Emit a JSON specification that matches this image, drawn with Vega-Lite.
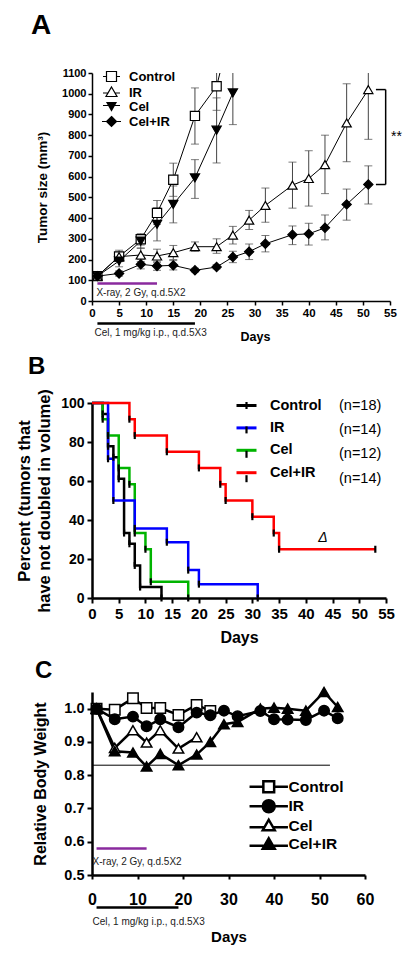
{
  "$schema": "https://vega.github.io/schema/vega-lite/v6.json",
  "padding": {"left": 16, "top": 11, "right": 5, "bottom": 5},
  "datasets": {
    "tumor": [
      {"group": "Control", "day": 1, "v": 120},
      {"group": "Control", "day": 5, "v": 215, "lo": 190, "hi": 245},
      {"group": "Control", "day": 9, "v": 298, "lo": 270, "hi": 325},
      {"group": "Control", "day": 12, "v": 425, "lo": 370, "hi": 485},
      {"group": "Control", "day": 15, "v": 585, "lo": 505, "hi": 665},
      {"group": "Control", "day": 19, "v": 893, "lo": 757, "hi": 1028},
      {"group": "Control", "day": 23, "v": 1036, "lo": 920, "hi": 1160},
      {"group": "Control", "day": 26, "v": 1350},
      {"group": "IR", "day": 1, "v": 120},
      {"group": "IR", "day": 5, "v": 214, "lo": 195, "hi": 235},
      {"group": "IR", "day": 9, "v": 222, "lo": 190, "hi": 255},
      {"group": "IR", "day": 12, "v": 217, "lo": 185, "hi": 250},
      {"group": "IR", "day": 15, "v": 233, "lo": 200, "hi": 268},
      {"group": "IR", "day": 19, "v": 262, "lo": 240, "hi": 285},
      {"group": "IR", "day": 23, "v": 262, "lo": 230, "hi": 300},
      {"group": "IR", "day": 26, "v": 318, "lo": 275, "hi": 360},
      {"group": "IR", "day": 29, "v": 390, "lo": 345, "hi": 437},
      {"group": "IR", "day": 32, "v": 461, "lo": 380, "hi": 545},
      {"group": "IR", "day": 37, "v": 559, "lo": 448, "hi": 670},
      {"group": "IR", "day": 40, "v": 591, "lo": 458, "hi": 725},
      {"group": "IR", "day": 43, "v": 658, "lo": 518, "hi": 800},
      {"group": "IR", "day": 47, "v": 859, "lo": 672, "hi": 1048},
      {"group": "IR", "day": 51, "v": 1020, "lo": 780, "hi": 1260},
      {"group": "Cel", "day": 1, "v": 120},
      {"group": "Cel", "day": 5, "v": 193, "lo": 165, "hi": 225},
      {"group": "Cel", "day": 9, "v": 289, "lo": 255, "hi": 320},
      {"group": "Cel", "day": 12, "v": 370, "lo": 290, "hi": 450},
      {"group": "Cel", "day": 15, "v": 466, "lo": 377, "hi": 555},
      {"group": "Cel", "day": 19, "v": 594, "lo": 495, "hi": 682},
      {"group": "Cel", "day": 23, "v": 824, "lo": 666, "hi": 980},
      {"group": "Cel", "day": 26, "v": 1004, "lo": 851, "hi": 1160},
      {"group": "Cel+IR", "day": 1, "v": 120},
      {"group": "Cel+IR", "day": 5, "v": 133, "lo": 120, "hi": 145},
      {"group": "Cel+IR", "day": 9, "v": 177, "lo": 155, "hi": 200},
      {"group": "Cel+IR", "day": 12, "v": 169, "lo": 148, "hi": 192},
      {"group": "Cel+IR", "day": 15, "v": 172, "lo": 150, "hi": 195},
      {"group": "Cel+IR", "day": 19, "v": 148, "lo": 140, "hi": 158},
      {"group": "Cel+IR", "day": 23, "v": 164, "lo": 155, "hi": 175},
      {"group": "Cel+IR", "day": 26, "v": 212, "lo": 185, "hi": 240},
      {"group": "Cel+IR", "day": 29, "v": 238, "lo": 200, "hi": 275},
      {"group": "Cel+IR", "day": 32, "v": 276, "lo": 237, "hi": 316},
      {"group": "Cel+IR", "day": 37, "v": 320, "lo": 272, "hi": 362},
      {"group": "Cel+IR", "day": 40, "v": 324, "lo": 270, "hi": 375},
      {"group": "Cel+IR", "day": 43, "v": 353, "lo": 295, "hi": 415},
      {"group": "Cel+IR", "day": 47, "v": 466, "lo": 390, "hi": 540},
      {"group": "Cel+IR", "day": 51, "v": 562, "lo": 468, "hi": 652}
    ],
    "surv": [
      {"group": "Control", "day": 0, "pct": 100},
      {"group": "Control", "day": 2, "pct": 94.4},
      {"group": "Control", "day": 3, "pct": 77.8},
      {"group": "Control", "day": 4, "pct": 72.2},
      {"group": "Control", "day": 5, "pct": 61.1},
      {"group": "Control", "day": 6, "pct": 33.3},
      {"group": "Control", "day": 7, "pct": 27.8},
      {"group": "Control", "day": 8, "pct": 16.7},
      {"group": "Control", "day": 9, "pct": 5.6},
      {"group": "Control", "day": 13, "pct": 0},
      {"group": "Cel", "day": 0, "pct": 100},
      {"group": "Cel", "day": 2, "pct": 91.7},
      {"group": "Cel", "day": 3, "pct": 83.3},
      {"group": "Cel", "day": 5, "pct": 66.7},
      {"group": "Cel", "day": 7, "pct": 58.3},
      {"group": "Cel", "day": 8, "pct": 33.3},
      {"group": "Cel", "day": 10, "pct": 25},
      {"group": "Cel", "day": 11, "pct": 8.3},
      {"group": "Cel", "day": 18, "pct": 0},
      {"group": "IR", "day": 0, "pct": 100},
      {"group": "IR", "day": 3, "pct": 71.4},
      {"group": "IR", "day": 4, "pct": 50},
      {"group": "IR", "day": 8, "pct": 35.7},
      {"group": "IR", "day": 14, "pct": 28.6},
      {"group": "IR", "day": 18, "pct": 14.3},
      {"group": "IR", "day": 20, "pct": 7.1},
      {"group": "IR", "day": 31, "pct": 0},
      {"group": "Cel+IR", "day": 0, "pct": 100},
      {"group": "Cel+IR", "day": 7, "pct": 91.7},
      {"group": "Cel+IR", "day": 8, "pct": 83.3},
      {"group": "Cel+IR", "day": 14, "pct": 75},
      {"group": "Cel+IR", "day": 20, "pct": 66.7},
      {"group": "Cel+IR", "day": 24, "pct": 58.3},
      {"group": "Cel+IR", "day": 25, "pct": 50},
      {"group": "Cel+IR", "day": 30, "pct": 41.7},
      {"group": "Cel+IR", "day": 34, "pct": 33.3},
      {"group": "Cel+IR", "day": 35, "pct": 25},
      {"group": "Cel+IR", "day": 53, "pct": 25}
    ],
    "weight": [
      {"group": "Control", "day": 1, "w": 1.0},
      {"group": "Control", "day": 5, "w": 0.997},
      {"group": "Control", "day": 9, "w": 1.031},
      {"group": "Control", "day": 12, "w": 1.002},
      {"group": "Control", "day": 15, "w": 1.002},
      {"group": "Control", "day": 19, "w": 0.981},
      {"group": "Control", "day": 23, "w": 1.011},
      {"group": "Control", "day": 26, "w": 0.993},
      {"group": "IR", "day": 1, "w": 1.0},
      {"group": "IR", "day": 5, "w": 0.968},
      {"group": "IR", "day": 9, "w": 0.976},
      {"group": "IR", "day": 12, "w": 0.947},
      {"group": "IR", "day": 15, "w": 0.968},
      {"group": "IR", "day": 19, "w": 0.944},
      {"group": "IR", "day": 23, "w": 0.988},
      {"group": "IR", "day": 26, "w": 0.98},
      {"group": "IR", "day": 29, "w": 0.994},
      {"group": "IR", "day": 32, "w": 0.977},
      {"group": "IR", "day": 37, "w": 0.993},
      {"group": "IR", "day": 40, "w": 0.968},
      {"group": "IR", "day": 43, "w": 0.967},
      {"group": "IR", "day": 47, "w": 0.966},
      {"group": "IR", "day": 51, "w": 0.994},
      {"group": "IR", "day": 54, "w": 0.971},
      {"group": "Cel", "day": 1, "w": 1.0},
      {"group": "Cel", "day": 5, "w": 0.882},
      {"group": "Cel", "day": 9, "w": 0.935},
      {"group": "Cel", "day": 12, "w": 0.898},
      {"group": "Cel", "day": 15, "w": 0.935},
      {"group": "Cel", "day": 19, "w": 0.88},
      {"group": "Cel", "day": 23, "w": 0.914},
      {"group": "Cel+IR", "day": 1, "w": 1.0},
      {"group": "Cel+IR", "day": 5, "w": 0.872},
      {"group": "Cel+IR", "day": 9, "w": 0.868},
      {"group": "Cel+IR", "day": 12, "w": 0.826},
      {"group": "Cel+IR", "day": 15, "w": 0.864},
      {"group": "Cel+IR", "day": 19, "w": 0.83},
      {"group": "Cel+IR", "day": 23, "w": 0.862},
      {"group": "Cel+IR", "day": 26, "w": 0.9},
      {"group": "Cel+IR", "day": 29, "w": 0.953},
      {"group": "Cel+IR", "day": 32, "w": 0.96},
      {"group": "Cel+IR", "day": 37, "w": 1.0},
      {"group": "Cel+IR", "day": 40, "w": 1.003},
      {"group": "Cel+IR", "day": 43, "w": 1.0},
      {"group": "Cel+IR", "day": 47, "w": 0.994},
      {"group": "Cel+IR", "day": 51, "w": 1.05},
      {"group": "Cel+IR", "day": 54, "w": 1.005}
    ],
    "sched": [
      {"treatment": "X-ray, 2 Gy, q.d.5X2", "start": 1, "end": 12},
      {"treatment": "Cel, 1 mg/kg i.p., q.d.5X3", "start": 1, "end": 19}
    ]
  },
  "spacing": 102,
  "bounds": "flush",
  "resolve": {"scale": {"color": "independent", "shape": "independent", "fill": "independent", "stroke": "independent"}, "legend": {"color": "independent", "shape": "independent", "fill": "independent", "stroke": "independent"}},
  "vconcat": [
    {
      "width": 298,
      "height": 228,
      "title": {"text": "A", "dx": -61, "offset": 5.5, "fontSize": 28, "baseline": "alphabetic"},
      "data": {"name": "tumor"},
      "resolve": {"scale": {"shape": "independent", "fill": "independent"}},
      "layer": [
        {
          "transform": [{"filter": "isValid(datum.lo)"}],
          "mark": {"type": "rule", "color": "#444", "strokeWidth": 1, "clip": true},
          "encoding": {
            "x": {"field": "day", "type": "quantitative", "scale": {"domain": [0, 55], "nice": false, "zero": false},
              "axis": {"title": "Days", "values": [0, 5, 10, 15, 20, 25, 30, 35, 40, 45, 50, 55], "tickCount": 30, "labelOverlap": false, "labelFontSize": 11.5, "tickSize": 4, "labelPadding": 2, "domainWidth": 1.5, "tickWidth": 1.5, "titleFontSize": 12.5, "titleX": 163, "titleY": 35, "titleBaseline": "middle"}},
            "y": {"field": "lo", "type": "quantitative", "scale": {"domain": [0, 1100], "nice": false},
              "axis": {"title": "Tumor size (mm³)", "values": [0, 100, 200, 300, 400, 500, 600, 700, 800, 900, 1000, 1100], "tickCount": 30, "format": "d", "labelOverlap": false, "labelFontSize": 11, "tickSize": 4, "labelPadding": 2, "domainWidth": 1.5, "tickWidth": 1.5, "titleFontSize": 13.5, "titlePadding": 12}},
            "y2": {"field": "hi"}
          }
        },
        {
          "transform": [{"filter": "isValid(datum.lo)"}],
          "mark": {"type": "tick", "orient": "horizontal", "color": "#444", "size": 8, "thickness": 1, "clip": true},
          "encoding": {"x": {"field": "day", "type": "quantitative"}, "y": {"field": "lo", "type": "quantitative"}}
        },
        {
          "transform": [{"filter": "isValid(datum.hi)"}],
          "mark": {"type": "tick", "orient": "horizontal", "color": "#444", "size": 8, "thickness": 1, "clip": true},
          "encoding": {"x": {"field": "day", "type": "quantitative"}, "y": {"field": "hi", "type": "quantitative"}}
        },
        {
          "mark": {"type": "line", "color": "black", "strokeWidth": 1, "clip": true},
          "encoding": {"x": {"field": "day", "type": "quantitative"}, "y": {"field": "v", "type": "quantitative"}, "detail": {"field": "group"}}
        },
        {
          "mark": {"type": "point", "size": 85, "stroke": "black", "strokeWidth": 1.2, "opacity": 1, "clip": true},
          "encoding": {
            "x": {"field": "day", "type": "quantitative"},
            "y": {"field": "v", "type": "quantitative"},
            "fill": {"field": "group", "type": "nominal", "scale": {"domain": ["Control", "IR", "Cel", "Cel+IR"], "range": ["white", "white", "black", "black"]}, "legend": null},
            "shape": {"field": "group", "type": "nominal", "scale": {"domain": ["Control", "IR", "Cel", "Cel+IR"], "range": ["square", "triangle-up", "triangle-down", "diamond"]}, "legend": null}
          }
        },
        {
          "transform": [{"filter": "datum.day < 0"}],
          "mark": {"type": "point", "filled": false, "size": 100, "stroke": "black", "strokeWidth": 1.2, "opacity": 1, "clip": true},
          "encoding": {
            "x": {"field": "day", "type": "quantitative"},
            "y": {"field": "v", "type": "quantitative"},
            "shape": {"field": "group", "type": "nominal", "scale": {"domain": ["Control", "IR", "Cel", "Cel+IR"], "range": [
                "M-1.7,0H-1M1,0H1.7M-1,-1H1V1H-1Z",
                "M-1.7,0.1H-0.7M0.7,0.1H1.7M0,-1.1L1.1,0.8L-1.1,0.8Z",
                "M-1.7,-0.2H1.7M-0.9,-0.8L0.9,-0.8L0,0.8ZM-0.79,-0.6H0.79M-0.68,-0.4H0.68M-0.45,0H0.45M-0.34,0.2H0.34M-0.22,0.4H0.22M-0.11,0.6H0.11M-0.73,-0.5H0.73M-0.62,-0.3H0.62M-0.39,0.1H0.39M-0.28,0.3H0.28M-0.17,0.5H0.17",
                "M-1.9,0H1.9M0,-1L1,0L0,1L-1,0ZM-0.2,-0.8H0.2M-0.4,-0.6H0.4M-0.6,-0.4H0.6M-0.8,-0.2H0.8M-0.8,0.2H0.8M-0.6,0.4H0.6M-0.4,0.6H0.4M-0.2,0.8H0.2M-0.3,-0.7H0.3M-0.5,-0.5H0.5M-0.7,-0.3H0.7M-0.9,-0.1H0.9M-0.9,0.1H0.9M-0.7,0.3H0.7M-0.5,0.5H0.5M-0.3,0.7H0.3"]},
              "legend": {"title": null, "orient": "none", "legendX": 13, "legendY": -3, "padding": 0, "symbolSize": 100, "symbolOpacity": 1, "symbolStrokeColor": "black", "symbolStrokeWidth": 1.2, "labelFontSize": 13, "labelFontWeight": "bold", "labelOffset": 11, "rowPadding": 0}}
          }
        },
        {
          "transform": [{"filter": "datum.day == 51 && (datum.group == 'IR' || datum.group == 'Cel+IR')"}],
          "mark": {"type": "rule", "color": "black", "strokeWidth": 1.5},
          "encoding": {"x": {"datum": 52.4}, "x2": {"datum": 54.2}, "y": {"field": "v", "type": "quantitative"}}
        },
        {
          "transform": [{"filter": "datum.day == 51 && (datum.group == 'IR' || datum.group == 'Cel+IR')"}, {"aggregate": [{"op": "min", "field": "v", "as": "vmin"}, {"op": "max", "field": "v", "as": "vmax"}]}],
          "mark": {"type": "rule", "color": "black", "strokeWidth": 1.5},
          "encoding": {"x": {"datum": 54.2}, "y": {"field": "vmin", "type": "quantitative"}, "y2": {"field": "vmax"}}
        },
        {
          "transform": [{"filter": "datum.day == 51 && (datum.group == 'IR' || datum.group == 'Cel+IR')"}, {"aggregate": [{"op": "mean", "field": "v", "as": "vmid"}]}],
          "mark": {"type": "text", "text": "**", "align": "left", "baseline": "middle", "fontSize": 14, "color": "black"},
          "encoding": {"x": {"datum": 55.2}, "y": {"field": "vmid", "type": "quantitative"}}
        },
        {
          "data": {"name": "sched"},
          "transform": [{"filter": "indexof(datum.treatment, 'X-ray') == 0"}],
          "mark": {"type": "rule", "color": "#8a2a9e", "strokeWidth": 2.5},
          "encoding": {"x": {"field": "start", "type": "quantitative"}, "x2": {"field": "end"}, "y": {"datum": 85}}
        },
        {
          "data": {"name": "sched"},
          "transform": [{"filter": "indexof(datum.treatment, 'X-ray') == 0"}],
          "mark": {"type": "text", "align": "left", "baseline": "middle", "fontSize": 10, "color": "#222", "dx": -1},
          "encoding": {"x": {"field": "start", "type": "quantitative"}, "y": {"datum": 37}, "text": {"field": "treatment"}}
        },
        {
          "data": {"name": "sched"},
          "transform": [{"filter": "indexof(datum.treatment, 'Cel') == 0"}],
          "mark": {"type": "rule", "color": "black", "strokeWidth": 2.5},
          "encoding": {"x": {"field": "start", "type": "quantitative"}, "x2": {"field": "end"}, "y": {"datum": -109}}
        },
        {
          "data": {"name": "sched"},
          "transform": [{"filter": "indexof(datum.treatment, 'Cel') == 0"}],
          "mark": {"type": "text", "align": "left", "baseline": "middle", "fontSize": 10, "color": "#222", "dx": -3},
          "encoding": {"x": {"field": "start", "type": "quantitative"}, "y": {"datum": -156}, "text": {"field": "treatment"}}
        }
      ]
    },
    {
      "spacing": 94,
      "bounds": "flush",
      "resolve": {"scale": {"color": "independent", "shape": "independent", "fill": "independent", "stroke": "independent"}, "legend": {"color": "independent", "shape": "independent", "fill": "independent", "stroke": "independent"}},
      "vconcat": [
        {
          "width": 294,
          "height": 195,
          "title": {"text": "B", "dx": -64, "offset": -9, "fontSize": 24, "baseline": "alphabetic"},
          "data": {"name": "surv"},
          "layer": [
            {
              "mark": {"type": "line", "interpolate": "step-after", "strokeWidth": 2.5},
              "encoding": {
                "x": {"field": "day", "type": "quantitative", "scale": {"domain": [0, 55], "nice": false, "zero": false},
                  "axis": {"title": "Days", "values": [0, 5, 10, 15, 20, 25, 30, 35, 40, 45, 50, 55], "tickCount": 30, "labelOverlap": false, "labelFontSize": 15, "tickSize": 5, "labelPadding": 3, "domainWidth": 2.5, "tickWidth": 2, "titleFontSize": 16, "titleY": 39, "titleBaseline": "middle"}},
                "y": {"field": "pct", "type": "quantitative", "scale": {"domain": [0, 100], "nice": false},
                  "axis": {"title": ["Percent (tumors that", "have not doubled in volume)"], "values": [0, 20, 40, 60, 80, 100], "tickCount": 30, "labelOverlap": false, "labelFontSize": 14, "tickSize": 5, "labelPadding": 3, "domainWidth": 2.5, "tickWidth": 2, "titleFontSize": 16.5, "titleLineHeight": 20, "titlePadding": 8}},
                "color": {"field": "group", "type": "nominal", "scale": {"domain": ["Control", "IR", "Cel", "Cel+IR"], "range": ["black", "#0000ff", "#00b400", "#ff0000"]},
                  "legend": {"title": null, "orient": "none", "legendX": 143, "legendY": -9, "padding": 0, "symbolType": "M-1,0H1", "symbolSize": 400, "symbolStrokeWidth": 3, "labelFontSize": 14.5, "labelFontWeight": "bold", "labelOffset": 12, "rowPadding": 4.4}}
              }
            },
            {
              "transform": [{"filter": "datum.day > 0"}],
              "mark": {"type": "point", "filled": false, "stroke": "black", "strokeWidth": 2.2, "opacity": 1, "size": 400},
              "encoding": {
                "x": {"field": "day", "type": "quantitative"},
                "y": {"field": "pct", "type": "quantitative"},
                "shape": {"field": "group", "type": "nominal", "sort": ["Control", "IR", "Cel", "Cel+IR"], "scale": {"range": ["M0,-0.35V0.35", "M0,-0.35V0.35", "M0,-0.35V0.35", "M0,-0.35V0.35"]},
                  "legend": {"title": null, "orient": "none", "legendX": 143, "legendY": -9, "padding": 0, "symbolSize": 400, "symbolStrokeColor": "black", "symbolStrokeWidth": 2.2, "labelFontSize": 14.5, "labelFontWeight": "normal", "labelOffset": 81, "rowPadding": 4.4,
                    "labelExpr": "datum.label == 'Control' ? '(n=18)' : datum.label == 'IR' ? '(n=14)' : datum.label == 'Cel' ? '(n=12)' : '(n=14)'"}}
              }
            },
            {
              "data": {"values": [{}]},
              "mark": {"type": "text", "text": "Δ", "fontStyle": "italic", "fontSize": 14, "color": "black", "baseline": "middle"},
              "encoding": {"x": {"datum": 43.2}, "y": {"datum": 31}}
            }
          ]
        },
        {
          "width": 273,
          "height": 183,
          "title": {"text": "C", "dx": -57, "offset": -18, "fontSize": 24, "baseline": "alphabetic"},
          "data": {"name": "weight"},
          "resolve": {"scale": {"shape": "independent", "fill": "independent"}},
          "layer": [
            {
              "data": {"values": [{}]},
              "mark": {"type": "rule", "color": "black", "strokeWidth": 1},
              "encoding": {"x": {"datum": 0}, "x2": {"datum": 52.3}, "y": {"datum": 0.83}}
            },
            {
              "mark": {"type": "line", "color": "black", "strokeWidth": 2.5},
              "encoding": {
                "x": {"field": "day", "type": "quantitative", "scale": {"domain": [0, 60], "nice": false, "zero": false},
                  "axis": {"title": "Days", "values": [0, 10, 20, 30, 40, 50, 60], "tickCount": 30, "labelOverlap": false, "labelFontSize": 16, "tickSize": 4, "labelPadding": 12, "domainWidth": 2.5, "tickWidth": 2, "titleFontSize": 15, "titleY": 61, "titleBaseline": "middle"}},
                "y": {"field": "w", "type": "quantitative", "scale": {"domain": [0.5, 1.05], "nice": false, "zero": false},
                  "axis": {"title": "Relative Body Weight", "values": [0.5, 0.6, 0.7, 0.8, 0.9, 1.0], "tickCount": 30, "format": ".1f", "labelOverlap": false, "labelFontSize": 14.5, "tickSize": 5, "labelPadding": 3, "domainWidth": 2.5, "tickWidth": 2, "titleFontSize": 16, "titlePadding": 15}},
                "detail": {"field": "group"}
              }
            },
            {
              "mark": {"type": "point", "size": 110, "stroke": "black", "strokeWidth": 1.5, "opacity": 1},
              "encoding": {
                "x": {"field": "day", "type": "quantitative"},
                "y": {"field": "w", "type": "quantitative"},
                "fill": {"field": "group", "type": "nominal", "scale": {"domain": ["Control", "IR", "Cel", "Cel+IR"], "range": ["white", "black", "white", "black"]}, "legend": null},
                "shape": {"field": "group", "type": "nominal", "scale": {"domain": ["Control", "IR", "Cel", "Cel+IR"], "range": ["square", "circle", "triangle-up", "triangle-up"]}, "legend": null}
              }
            },
            {
              "transform": [{"filter": "datum.day < 0"}],
              "mark": {"type": "point", "filled": false, "size": 144, "stroke": "black", "strokeWidth": 2.5, "opacity": 1, "clip": true},
              "encoding": {
                "x": {"field": "day", "type": "quantitative"},
                "y": {"field": "w", "type": "quantitative"},
                "shape": {"field": "group", "type": "nominal", "scale": {"domain": ["Control", "IR", "Cel", "Cel+IR"], "range": [
                    "M-3.2,0H-0.9M0.9,0H3.2M-0.9,-0.9H0.9V0.9H-0.9Z",
                    "M-3.2,0H3.2M-1,0A1,1 0 1,0 1,0A1,1 0 1,0 -1,0ZM-0.44,-0.9H0.44M-0.8,-0.6H0.8M-0.95,-0.3H0.95M-0.95,0.3H0.95M-0.8,0.6H0.8M-0.44,0.9H0.44",
                    "M-3.2,0.25H-0.72M0.72,0.25H3.2M0,-1L1,0.75L-1,0.75Z",
                    "M-3.2,0.25H3.2M0,-1L1,0.75L-1,0.75ZM-0.17,-0.7H0.17M-0.34,-0.4H0.34M-0.51,-0.1H0.51M-0.69,0.2H0.69M-0.86,0.5H0.86"]},
                  "legend": {"title": null, "orient": "none", "legendX": 169, "legendY": 87, "padding": 0, "symbolSize": 144, "symbolOpacity": 1, "symbolStrokeColor": "black", "symbolStrokeWidth": 2.5, "labelFontSize": 15.5, "labelFontWeight": "bold", "labelOffset": 12, "rowPadding": -3.5}}
              }
            },
            {
              "data": {"name": "sched"},
              "transform": [{"filter": "indexof(datum.treatment, 'X-ray') == 0"}],
              "mark": {"type": "rule", "color": "#8a2a9e", "strokeWidth": 2.5},
              "encoding": {"x": {"field": "start", "type": "quantitative"}, "x2": {"field": "end"}, "y": {"datum": 0.58}}
            },
            {
              "data": {"name": "sched"},
              "transform": [{"filter": "indexof(datum.treatment, 'X-ray') == 0"}],
              "mark": {"type": "text", "align": "left", "baseline": "middle", "fontSize": 10, "color": "#222", "dx": -4},
              "encoding": {"x": {"field": "start", "type": "quantitative"}, "y": {"datum": 0.538}, "text": {"field": "treatment"}}
            },
            {
              "data": {"name": "sched"},
              "transform": [{"filter": "indexof(datum.treatment, 'Cel') == 0"}],
              "mark": {"type": "rule", "color": "black", "strokeWidth": 2.5},
              "encoding": {"x": {"field": "start", "type": "quantitative"}, "x2": {"field": "end"}, "y": {"datum": 0.402}}
            },
            {
              "data": {"name": "sched"},
              "transform": [{"filter": "indexof(datum.treatment, 'Cel') == 0"}],
              "mark": {"type": "text", "align": "left", "baseline": "middle", "fontSize": 10, "color": "#222", "dx": -4},
              "encoding": {"x": {"field": "start", "type": "quantitative"}, "y": {"datum": 0.359}, "text": {"field": "treatment"}}
            }
          ]
        }
      ]
    }
  ],
  "config": {
    "font": "Liberation Sans",
    "view": {"stroke": null},
    "axis": {"grid": false, "domainColor": "black", "tickColor": "black", "labelColor": "black", "titleColor": "black", "labelFontWeight": "bold", "titleFontWeight": "bold", "labelFlush": false, "labelOverlap": false, "labelFont": "Liberation Sans", "titleFont": "Liberation Sans"},
    "title": {"fontWeight": "bold", "color": "black", "anchor": "start", "frame": "group", "font": "Liberation Sans"},
    "legend": {"labelColor": "black", "labelFont": "Liberation Sans"},
    "text": {"font": "Liberation Sans"}
  }
}
